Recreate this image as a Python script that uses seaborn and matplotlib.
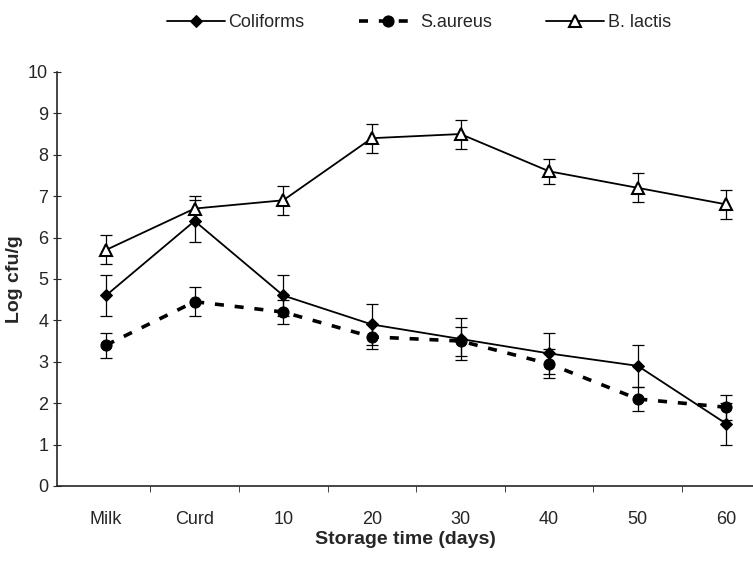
import pandas as pd
import seaborn as sns
import matplotlib.pyplot as plt
import numpy as np

# values
stages = ["Milk", "Curd", "10", "20", "30", "40", "50", "60"]
coliforms = [4.6, 6.4, 4.6, 3.9, 3.55, 3.2, 2.9, 1.5]
coliforms_err = [0.5, 0.5, 0.5, 0.5, 0.5, 0.5, 0.5, 0.5]
s_aureus = [3.4, 4.45, 4.2, 3.6, 3.5, 2.95, 2.1, 1.9]
s_aureus_err = [0.3, 0.35, 0.3, 0.3, 0.35, 0.35, 0.3, 0.3]
b_lactis = [5.7, 6.7, 6.9, 8.4, 8.5, 7.6, 7.2, 6.8]
b_lactis_err = [0.35, 0.3, 0.35, 0.35, 0.35, 0.3, 0.35, 0.35]

sns.set_style("ticks")
plt.rcParams['font.family'] = ['Liberation Sans', 'DejaVu Sans']

fig = plt.figure(figsize=(7.53, 5.71), dpi=100)
ax = fig.add_axes([0.076, 0.149, 0.924, 0.725])

x = np.arange(len(stages))
series = [
    ("Coliforms", coliforms, coliforms_err, dict(linestyle="-", marker="D", markersize=6,
                                                 markerfacecolor="black", linewidth=1.3)),
    ("S.aureus", s_aureus, s_aureus_err, dict(linestyle=(0, (2.5, 3)), marker="o", markersize=8,
                                              markerfacecolor="black", linewidth=2.6)),
    ("B. lactis", b_lactis, b_lactis_err, dict(linestyle="-", marker="^", markersize=8,
                                              markerfacecolor="white", markeredgewidth=1.5,
                                              linewidth=1.3)),
]

for name, vals, errs, style in series:
    df = pd.DataFrame({"x": x, "y": vals})
    ax.errorbar(x, vals, yerr=errs, fmt="none", ecolor="black", elinewidth=0.9,
                capsize=4, capthick=0.9, zorder=2)
    sns.lineplot(data=df, x="x", y="y", ax=ax, color="black", label=name,
                 markeredgecolor="black", zorder=3, **style)

ax.set_xlim(-0.55, 7.3)
ax.set_ylim(0, 10)
ax.set_yticks(range(0, 11))
ax.set_xticks(x)
ax.set_xticklabels(stages)
ax.set_xticks(x[:-1] + 0.5, minor=True)
ax.tick_params(axis="x", which="major", length=0, labelsize=13, pad=18)
ax.tick_params(axis="x", which="minor", length=4, direction="out")
ax.tick_params(axis="y", length=6, direction="inout", labelsize=13)
sns.despine(ax=ax)
ax.spines["left"].set_linewidth(1.2)
ax.spines["bottom"].set_linewidth(1.2)

ax.set_xlabel("Storage time (days)", fontsize=14, fontweight="bold", labelpad=2)
ax.set_ylabel("Log cfu/g", fontsize=14, fontweight="bold", labelpad=4)

ax.legend(loc="lower center", bbox_to_anchor=(0.52, 1.06), ncol=3, frameon=False,
          fontsize=13, handlelength=3.2, columnspacing=3.0, handletextpad=0.2)

fig.savefig("out.png", dpi=100)
